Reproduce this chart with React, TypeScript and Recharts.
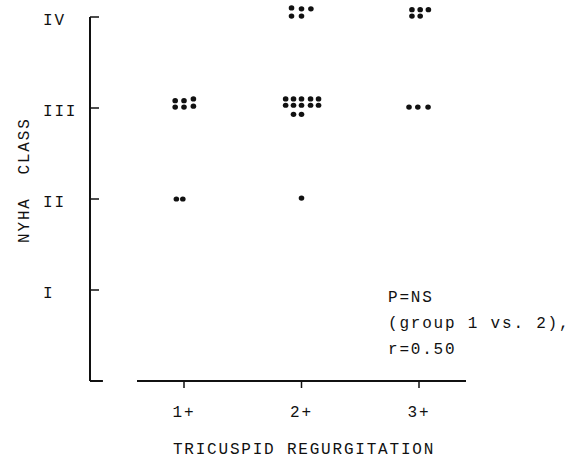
import { ScatterChart, Scatter, XAxis, YAxis, ReferenceLine } from "recharts";

const X_TICKS = [1, 2, 3];
const X_LABELS = ["1+", "2+", "3+"];
const Y_TICKS = [1, 2, 3, 4];
const Y_LABELS = ["I", "II", "III", "IV"];

// one point per patient: x = TR grade, y = NYHA class (clusters spread as in the figure)
const tr1 = [
  { x: 0.925, y: 3.08 }, { x: 1.0, y: 3.08 }, { x: 1.08, y: 3.1 },
  { x: 0.925, y: 3.01 }, { x: 1.0, y: 3.01 }, { x: 1.08, y: 3.02 },
  { x: 0.935, y: 2.0 }, { x: 0.99, y: 2.0 },
];
const tr2 = [
  { x: 1.915, y: 4.1 }, { x: 2.0, y: 4.09 }, { x: 2.08, y: 4.09 },
  { x: 1.915, y: 4.01 }, { x: 2.0, y: 4.01 },
  { x: 1.865, y: 3.1 }, { x: 1.932, y: 3.1 }, { x: 2.0, y: 3.1 }, { x: 2.077, y: 3.1 }, { x: 2.145, y: 3.1 },
  { x: 1.865, y: 3.03 }, { x: 1.932, y: 3.03 }, { x: 2.0, y: 3.03 }, { x: 2.077, y: 3.03 }, { x: 2.145, y: 3.03 },
  { x: 1.932, y: 2.93 }, { x: 2.0, y: 2.93 },
  { x: 2.0, y: 2.01 },
];
const tr3 = [
  { x: 2.94, y: 4.08 }, { x: 3.01, y: 4.08 }, { x: 3.08, y: 4.08 },
  { x: 2.94, y: 4.01 }, { x: 3.01, y: 4.01 },
  { x: 2.915, y: 3.01 }, { x: 2.99, y: 3.01 }, { x: 3.077, y: 3.01 },
];

const FONT = "'Liberation Mono', 'DejaVu Sans Mono', monospace";
const INK = "#111";

const Dot = (props: any) => <ellipse cx={props.cx} cy={props.cy} rx={2.8} ry={2.6} fill={INK} />;

const YTick = ({ x, y, payload }: any) => (
  <g>
    <line x1={x} y1={y} x2={x + 9} y2={y} stroke={INK} strokeWidth={1.5} />
    <text x={x - 47} y={y + 8} fontFamily={FONT} fontSize={16} letterSpacing={1.8} fill={INK}>
      {Y_LABELS[payload.value - 1]}
    </text>
  </g>
);

const XTick = ({ x, y, payload }: any) => (
  <g>
    <line x1={x} y1={y} x2={x} y2={y + 7} stroke={INK} strokeWidth={1.5} />
    <text x={x} y={y + 36} textAnchor="middle" fontFamily={FONT} fontSize={16} letterSpacing={1.8} fill={INK}>
      {X_LABELS[payload.value - 1]}
    </text>
  </g>
);

export default function App() {
  return (
    <div style={{ position: "absolute", left: 0, top: 0, width: 577, height: 461, background: "#fff" }}>
      <ScatterChart width={577} height={461} margin={{ top: 3.35, right: 111, bottom: 0, left: 0 }}>
        <XAxis
          type="number"
          dataKey="x"
          domain={[0.2, 3.4]}
          ticks={X_TICKS}
          height={80}
          axisLine={false}
          tickLine={false}
          tickSize={0}
          tickMargin={0}
          tick={<XTick />}
          label={{
            value: "TRICUSPID REGURGITATION",
            position: "insideBottom",
            offset: 7,
            dx: 26,
            style: { fontFamily: FONT, fontSize: 16, letterSpacing: 1.8, fill: INK },
          }}
        />
        <YAxis
          type="number"
          dataKey="y"
          domain={[0, 4.15]}
          ticks={Y_TICKS}
          width={90}
          axisLine={false}
          tickLine={false}
          tickSize={0}
          tickMargin={0}
          tick={<YTick />}
          label={{
            value: "NYHA\u00a0\u00a0CLASS",
            angle: -90,
            position: "insideLeft",
            offset: 23,
            dy: -12,
            style: { fontFamily: FONT, fontSize: 16, letterSpacing: 1.8, fill: INK, textAnchor: "middle" },
          }}
        />
        <ReferenceLine segment={[{ x: 0.2, y: 0 }, { x: 0.2, y: 4 }]} stroke={INK} strokeWidth={2} />
        <ReferenceLine segment={[{ x: 0.2, y: 0 }, { x: 0.31, y: 0 }]} stroke={INK} strokeWidth={2} />
        <ReferenceLine segment={[{ x: 0.6, y: 0 }, { x: 3.4, y: 0 }]} stroke={INK} strokeWidth={2} />
        <Scatter data={tr1} shape={<Dot />} isAnimationActive={false} />
        <Scatter data={tr2} shape={<Dot />} isAnimationActive={false} />
        <Scatter data={tr3} shape={<Dot />} isAnimationActive={false} />
      </ScatterChart>
      <div
        style={{
          position: "absolute",
          left: 388,
          top: 285,
          fontFamily: FONT,
          fontSize: 16,
          letterSpacing: 1.8,
          lineHeight: "26px",
          color: INK,
          whiteSpace: "pre",
        }}
      >
        {"P=NS\n(group 1 vs. 2),\nr=0.50"}
      </div>
    </div>
  );
}
